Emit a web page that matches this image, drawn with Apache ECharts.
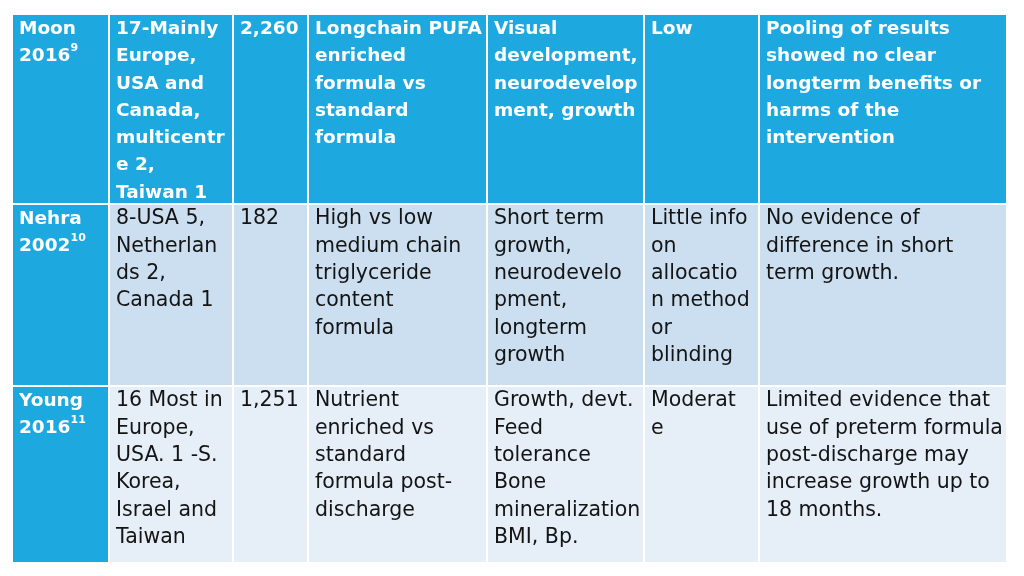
<!DOCTYPE html>
<html><head><meta charset="utf-8">
<script src="https://cdn.jsdelivr.net/npm/echarts@6/dist/echarts.min.js"></script>
<style>html,body{margin:0;padding:0;background:#fff}#c{width:1024px;height:576px}</style>
</head><body><div id="c"></div>
<script>
// ---- table content (columns of the table, one entry per study row) ----
const studies = ["Moon\n2016{sup|9}", "Nehra\n2002{sup|10}", "Young\n2016{sup|11}"];
const countries = [
  "17-Mainly\nEurope,\nUSA and\nCanada,\nmulticentr\ne 2,\nTaiwan 1",
  "8-USA 5,\nNetherlan\nds 2,\nCanada 1",
  "16 Most in\nEurope,\nUSA. 1 -S.\nKorea,\nIsrael and\nTaiwan"
];
const participants = ["2,260", "182", "1,251"];
const interventions = [
  "Longchain PUFA\nenriched\nformula vs\nstandard\nformula",
  "High vs low\nmedium chain\ntriglyceride\ncontent\nformula",
  "Nutrient\nenriched vs\nstandard\nformula post-\ndischarge"
];
const outcomes = [
  "Visual\ndevelopment,\nneurodevelop\nment, growth",
  "Short term\ngrowth,\nneurodevelo\npment,\nlongterm\ngrowth",
  "Growth, devt.\nFeed\ntolerance\nBone\nmineralization\nBMI, Bp."
];
const quality = ["Low", "Little info\non\nallocatio\nn method\nor\nblinding", "Moderat\ne"];
const conclusions = [
  "Pooling of results\nshowed no clear\nlongterm benefits or\nharms of the\nintervention",
  "No evidence of\ndifference in short\nterm growth.",
  "Limited evidence that\nuse of preterm formula\npost-discharge may\nincrease growth up to\n18 months."
];

const columns = [studies, countries, participants, interventions, outcomes, quality, conclusions];

// ---- layout (pixel grid of the table) ----
const colEdges = [13, 110, 234, 309, 488, 645, 760, 1008];
const rowEdges = [15, 205, 387, 564];
const GAP = 2;
const FONT = 'DejaVu Sans';
const BLUE = '#1DA8E0';
const ROW_BG = ['#1DA8E0', '#CBDFF0', '#E6EFF8'];

const cells = [];
columns.forEach((col, c) => col.forEach((t, r) => cells.push([c, r])));

function renderItem(params, api) {
  const c = api.value(0), r = api.value(1);
  const p0 = api.coord([colEdges[c], rowEdges[r]]);
  const p1 = api.coord([colEdges[c + 1] - GAP, rowEdges[r + 1] - GAP]);
  const header = r === 0 || c === 0;
  const fill = (c === 0) ? BLUE : ROW_BG[r];
  const txtColor = header ? '#ffffff' : '#141414';
  return {
    type: 'group',
    children: [
      { type: 'rect', shape: { x: p0[0], y: p0[1], width: p1[0] - p0[0], height: p1[1] - p0[1] },
        style: { fill: fill } },
      { type: 'text', x: p0[0] + 6, y: p0[1] + 0.5,
        style: {
          text: columns[c][r], fill: txtColor,
          fontFamily: FONT,
          fontSize: header ? 18.5 : 20.5,
          fontWeight: header ? 'bold' : 'normal',
          lineHeight: 27.3, align: 'left', verticalAlign: 'top',
          rich: { sup: { fontSize: 11, fontFamily: FONT, fontWeight: 'bold', fill: txtColor,
                         lineHeight: 17, verticalAlign: 'top' } }
        } }
    ]
  };
}

const chart = echarts.init(document.getElementById('c'), null, { renderer: 'canvas' });
chart.setOption({
  animation: false,
  backgroundColor: '#ffffff',
  grid: { left: 0, right: 0, top: 0, bottom: 0 },
  xAxis: { type: 'value', min: 0, max: 1024, show: false },
  yAxis: { type: 'value', min: 0, max: 576, inverse: true, show: false },
  series: [{ type: 'custom', renderItem: renderItem, data: cells, encode: { x: 0, y: 1 } }]
});
</script>
</body></html>
